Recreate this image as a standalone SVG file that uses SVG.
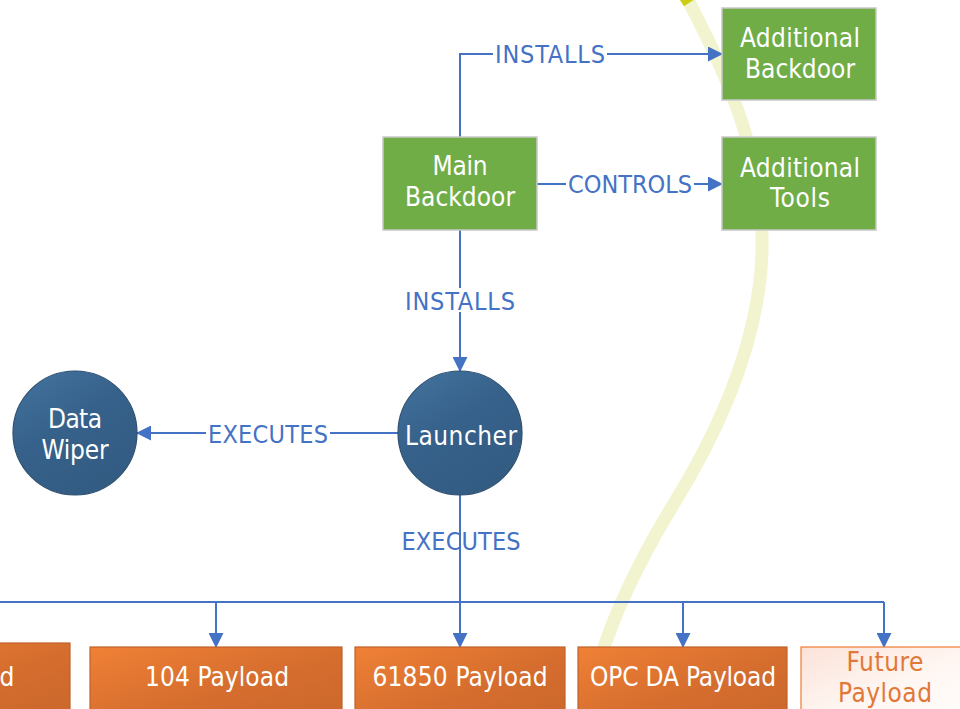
<svg xmlns="http://www.w3.org/2000/svg" width="960" height="709" viewBox="0 0 960 709">
  <style>
    .node-text { font-family: "Liberation Sans Narrow", "DejaVu Sans Condensed", "Liberation Sans", sans-serif; font-size: 26px; fill: #ffffff; text-anchor: middle; }
    .future-text { font-family: "Liberation Sans Narrow", "DejaVu Sans Condensed", "Liberation Sans", sans-serif; font-size: 26px; fill: #e27838; text-anchor: middle; }
    .edge-label { font-family: "Liberation Sans Narrow", "DejaVu Sans Condensed", "Liberation Sans", sans-serif; font-size: 25px; fill: #4472c4; text-anchor: middle; }
    .green { fill: #70ad47; stroke: #c8c8c8; stroke-width: 1.5; }
    .orange { fill: url(#orangeGrad); stroke: #c0622a; stroke-width: 1.2; }
    .circle { fill: url(#blueGrad); stroke: #2d4f70; stroke-width: 1.2; }
    .wire { fill: none; stroke: #4472c4; stroke-width: 2; }
    .arrow { marker-end: url(#arrowHead); }
  </style>
  <defs>
    <linearGradient id="orangeGrad" x1="0" y1="0" x2="1" y2="1">
      <stop offset="0" stop-color="#f08136"/>
      <stop offset="0.55" stop-color="#d56d2e"/>
      <stop offset="1" stop-color="#c9672b"/>
    </linearGradient>
    <linearGradient id="futureGrad" x1="0" y1="0" x2="1" y2="1">
      <stop offset="0" stop-color="#fbe2d8"/>
      <stop offset="0.5" stop-color="#fff6f2"/>
      <stop offset="1" stop-color="#ffffff"/>
    </linearGradient>
    <linearGradient id="blueGrad" x1="0" y1="0" x2="0.6" y2="1">
      <stop offset="0" stop-color="#4374a0"/>
      <stop offset="0.5" stop-color="#36618a"/>
      <stop offset="1" stop-color="#335c83"/>
    </linearGradient>
    <marker id="arrowHead" markerUnits="userSpaceOnUse" markerWidth="15" markerHeight="15" refX="14" refY="7.5" orient="auto">
      <path d="M0,0 L15,7.5 L0,15 Z" fill="#4472c4"/>
    </marker>
  </defs>

  <rect width="960" height="709" fill="#ffffff"/>

  <!-- background boundary curve -->
  <path d="M688,0 C730,80 764,160 762,250 C760,340 720,430 670,510 C640,560 615,610 600,660" fill="none" stroke="#f2f4cf" stroke-width="13"/>
  <path d="M685,-3 L689,3" fill="none" stroke="#cccc11" stroke-width="12"/>

  <!-- connectors -->
  <g id="connectors">
    <path class="wire arrow" d="M460,137 L460,54 L722,54"/>
    <path class="wire arrow" d="M537,184 L722,184"/>
    <path class="wire arrow" d="M460,230 L460,371"/>
    <path class="wire arrow" d="M398,433 L137,433"/>
    <text class="edge-label" x="461" y="550" textLength="119">EXECUTES</text>
    <path class="wire" d="M460,495 L460,602"/>
    <path class="wire" d="M0,602 L884,602"/>
    <path class="wire arrow" d="M216,602 L216,647"/>
    <path class="wire arrow" d="M460,602 L460,647"/>
    <path class="wire arrow" d="M683,602 L683,647"/>
    <path class="wire arrow" d="M884,602 L884,647"/>

    <rect x="493" y="42" width="114" height="24" fill="#ffffff"/>
    <text class="edge-label" x="550" y="63" textLength="110">INSTALLS</text>
    <rect x="566" y="172" width="128" height="24" fill="#ffffff"/>
    <text class="edge-label" x="630" y="193" textLength="124">CONTROLS</text>
    <rect x="403" y="288" width="114" height="24" fill="#ffffff"/>
    <text class="edge-label" x="460" y="310" textLength="110">INSTALLS</text>
    <rect x="206" y="421" width="124" height="24" fill="#ffffff"/>
    <text class="edge-label" x="268" y="443" textLength="120">EXECUTES</text>
  </g>

  <!-- green nodes -->
  <g id="additional-backdoor">
    <rect class="green" x="722" y="8" width="154" height="92"/>
    <text class="node-text" x="800" y="47" textLength="120">Additional</text>
    <text class="node-text" x="800" y="78" textLength="110">Backdoor</text>
  </g>
  <g id="additional-tools">
    <rect class="green" x="722" y="137" width="154" height="93"/>
    <text class="node-text" x="800" y="177" textLength="120">Additional</text>
    <text class="node-text" x="800" y="207" textLength="60">Tools</text>
  </g>
  <g id="main-backdoor">
    <rect class="green" x="383" y="137" width="154" height="93"/>
    <text class="node-text" x="460" y="175" textLength="55">Main</text>
    <text class="node-text" x="460" y="206" textLength="110">Backdoor</text>
  </g>

  <!-- circular nodes -->
  <g id="launcher">
    <circle class="circle" cx="460" cy="433" r="62"/>
    <text class="node-text" x="461" y="445" textLength="112">Launcher</text>
  </g>
  <g id="data-wiper">
    <circle class="circle" cx="75" cy="433" r="62"/>
    <text class="node-text" x="75" y="428" textLength="54">Data</text>
    <text class="node-text" x="75" y="459" textLength="67">Wiper</text>
  </g>

  <!-- payload nodes -->
  <g id="payload-left">
    <rect class="orange" x="-190" y="643" width="260" height="80"/>
    <text class="node-text" x="7" y="686">d</text>
  </g>
  <g id="payload-104">
    <rect class="orange" x="90" y="647" width="252" height="80"/>
    <text class="node-text" x="217" y="686" textLength="144">104 Payload</text>
  </g>
  <g id="payload-61850">
    <rect class="orange" x="355" y="647" width="210" height="80"/>
    <text class="node-text" x="460" y="686" textLength="175">61850 Payload</text>
  </g>
  <g id="payload-opc-da">
    <rect class="orange" x="578" y="647" width="209" height="80"/>
    <text class="node-text" x="683" y="686" textLength="186">OPC DA Payload</text>
  </g>
  <g id="payload-future">
    <rect x="801" y="647" width="180" height="80" fill="url(#futureGrad)" stroke="#ed7d31" stroke-width="1.2"/>
    <text class="future-text" x="885" y="671" textLength="77">Future</text>
    <text class="future-text" x="885" y="702" textLength="94">Payload</text>
  </g>
</svg>
